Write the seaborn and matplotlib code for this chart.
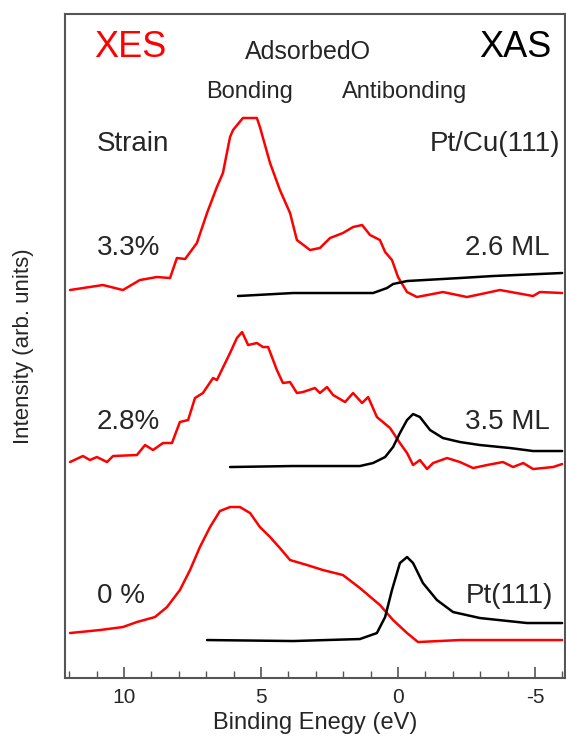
import pandas as pd
import seaborn as sns
import matplotlib.pyplot as plt

# XES (red) spectra: binding energy (eV) and offset intensity
xes_33_e = [11.97, 10.77, 10.04, 9.42, 8.80, 8.32, 8.07, 7.77, 7.34, 6.97, 6.61, 6.39, 6.13,
            6.02, 5.66, 5.15, 5.04, 4.67, 4.31, 3.94, 3.69, 3.21, 2.85, 2.48, 2.01, 1.64, 1.31,
            1.02, 0.66, 0.47, 0.22, 0.0, -0.33, -0.69, -1.64, -2.52, -3.72, -4.93, -5.18, -5.99]
xes_33_i = [388, 393, 388, 398, 401, 400, 420, 419, 435, 465, 491, 505, 541,
            548, 560, 560, 551, 515, 488, 465, 438, 428, 430, 440, 445, 451, 453,
            443, 438, 426, 418, 401, 386, 381, 386, 381, 388, 382, 386, 385]

xes_28_e = [11.97, 11.50, 11.24, 10.99, 10.62, 10.40, 9.53, 9.23, 8.94, 8.58, 8.25, 7.96, 7.66,
            7.41, 7.12, 6.75, 6.61, 6.13, 5.88, 5.69, 5.47, 5.15, 4.93, 4.74, 4.42, 4.20, 3.94,
            3.69, 3.47, 3.03, 2.85, 2.59, 2.37, 1.93, 1.64, 1.31, 1.09, 0.77, 0.29, -0.07, -0.33,
            -0.55, -0.80, -1.06, -1.28, -1.79, -2.26, -2.74, -3.25, -3.83, -4.20, -4.57, -4.93,
            -5.66, -5.99]
xes_28_i = [216, 222, 218, 221, 216, 222, 223, 233, 228, 235, 235, 256, 258,
            280, 285, 300, 298, 325, 340, 346, 333, 335, 331, 331, 308, 295, 296,
            285, 286, 290, 285, 291, 283, 276, 285, 275, 281, 261, 250, 235, 225,
            213, 218, 209, 215, 220, 216, 210, 213, 216, 211, 215, 209,
            211, 214]

xes_0_e = [11.97, 10.88, 10.04, 9.53, 8.87, 8.43, 7.96, 7.59, 7.23, 6.86, 6.50, 6.13, 5.77,
           5.40, 5.04, 4.67, 4.31, 3.94, 3.32, 2.74, 2.01, 1.39, 0.66, 0.18, -0.33, -0.73,
           -2.26, -5.99]
xes_0_i = [45, 48, 51, 56, 61, 71, 88, 108, 131, 151, 167, 171, 171,
           165, 151, 141, 130, 118, 113, 108, 103, 90, 73, 58, 45, 36,
           38, 38]

# XAS (black) spectra
xas_26_e = [5.84, 3.83, 0.91, 0.40, 0.18, -0.33, -2.26, -3.47, -5.99]
xas_26_i = [382, 385, 385, 390, 394, 397, 400, 402, 405]

xas_35_e = [6.13, 3.83, 1.39, 0.91, 0.47, 0.18, -0.07, -0.33, -0.55, -0.80, -1.17, -1.64,
            -2.26, -2.99, -4.09, -4.93, -5.99]
xas_35_i = [211, 212, 212, 215, 221, 231, 245, 258, 264, 261, 248, 240,
            236, 233, 230, 227, 227]

xas_pt_e = [6.97, 3.83, 1.39, 0.77, 0.47, 0.22, -0.07, -0.33, -0.55, -0.91, -1.42, -2.01,
            -2.99, -4.71, -5.99]
xas_pt_i = [38, 37, 39, 45, 61, 88, 115, 121, 115, 95, 78, 66,
            60, 55, 55]

curves = [
    (xes_33_e, xes_33_i, 'red'),
    (xes_28_e, xes_28_i, 'red'),
    (xes_0_e, xes_0_i, 'red'),
    (xas_26_e, xas_26_i, 'black'),
    (xas_35_e, xas_35_i, 'black'),
    (xas_pt_e, xas_pt_i, 'black'),
]

sns.set_style('ticks')
plt.rcParams['font.family'] = ['Liberation Sans', 'DejaVu Sans']

fig = plt.figure(figsize=(5.66, 7.37), dpi=100)
ax = fig.add_axes([0.115, 0.080, 0.883, 0.901])

for e, i, c in curves:
    df = pd.DataFrame({'E': e, 'I': i})
    sns.lineplot(data=df, x='E', y='I', color=c, linewidth=1.8, ax=ax, sort=False)

ax.set_xlim(12.15, -6.09)
ax.set_ylim(0, 664)
ax.set_xticks([10, 5, 0, -5])
ax.set_xticklabels(['10', '5', '0', '-5'])
ax.set_xticks(range(-6, 13), minor=True)
ax.set_yticks([])
ax.tick_params(axis='x', which='major', direction='in', length=8, width=1.2,
               labelsize=15, pad=7, color='#555555')
ax.tick_params(axis='x', which='minor', direction='in', length=5, width=1.0, color='#555555')
for s in ax.spines.values():
    s.set_color('#555555')
    s.set_linewidth(1.5)

ax.set_xlabel('Binding Enegy (eV)', fontsize=17, labelpad=4)
ax.set_ylabel('Intensity (arb. units)', fontsize=16)
ax.yaxis.set_label_coords(-0.062, 0.5)

tr = ax.transAxes
ax.text(0.13, 0.950, 'XES', color='red', fontsize=26, ha='center', va='center', transform=tr)
ax.text(0.90, 0.950, 'XAS', color='black', fontsize=26, ha='center', va='center', transform=tr)
ax.text(0.486, 0.943, 'AdsorbedO', fontsize=18, ha='center', va='center', transform=tr)
ax.text(0.37, 0.883, 'Bonding', fontsize=17, ha='center', va='center', transform=tr)
ax.text(0.68, 0.883, 'Antibonding', fontsize=17, ha='center', va='center', transform=tr)
ax.text(0.136, 0.804, 'Strain', fontsize=20, ha='center', va='center', transform=tr)
ax.text(0.99, 0.804, 'Pt/Cu(111)', fontsize=20, ha='right', va='center', transform=tr)
ax.text(0.064, 0.648, '3.3%', fontsize=20, ha='left', va='center', transform=tr)
ax.text(0.97, 0.648, '2.6 ML', fontsize=20, ha='right', va='center', transform=tr)
ax.text(0.064, 0.386, '2.8%', fontsize=20, ha='left', va='center', transform=tr)
ax.text(0.97, 0.386, '3.5 ML', fontsize=20, ha='right', va='center', transform=tr)
ax.text(0.064, 0.123, '0 %', fontsize=20, ha='left', va='center', transform=tr)
ax.text(0.976, 0.123, 'Pt(111)', fontsize=20, ha='right', va='center', transform=tr)

fig.savefig('out.png', dpi=100)
